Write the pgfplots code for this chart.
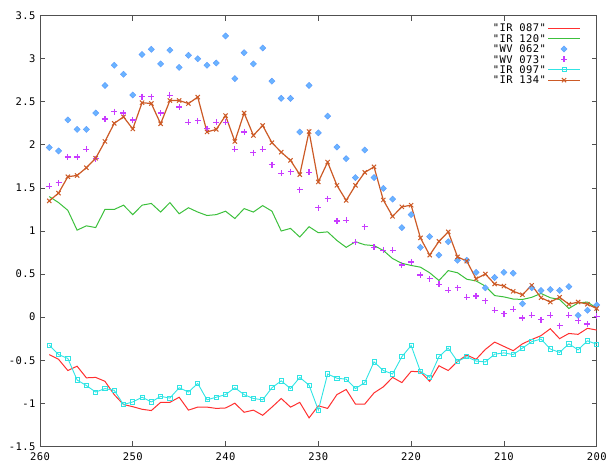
\documentclass[border=0pt]{standalone}
\usepackage{fontspec}
\setmonofont{DejaVu Sans Mono}[LetterSpace=4]
\usepackage{pgfplots}
\pgfplotsset{compat=1.18}
\definecolor{cred}{HTML}{FF3030}
\definecolor{cgreen}{HTML}{3CC03C}
\definecolor{cblue}{HTML}{6AB4FF}
\definecolor{cmag}{HTML}{C83CFF}
\definecolor{ccyan}{HTML}{30E4E4}
\definecolor{cbrown}{HTML}{CC5A26}
\definecolor{cframe}{HTML}{505050}
\begin{document}
\begin{tikzpicture}
\useasboundingbox (-40bp,-17.7bp) rectangle (568bp,446.3bp);
\begin{axis}[
  at={(0,0)}, anchor=south west,
  scale only axis, width=556.7bp, height=430.6bp,
  x dir=reverse, xmin=200, xmax=260, ymin=-1.5, ymax=3.5,
  xtick={200,210,220,230,240,250,260},
  xticklabels={200,210,220,230,240,250,260},
  ytick={-1.5,-1,-0.5,0,0.5,1,1.5,2,2.5,3,3.5},
  yticklabels={-1.5,-1,-0.5,0,0.5,1,1.5,2,2.5,3,3.5},
  tick align=inside, major tick length=5bp,
  axis line style={cframe, line width=0.9bp},
  every tick/.style={cframe, line width=0.8bp},
  ticklabel style={font=\ttfamily\fontsize{10.5bp}{12bp}\selectfont, black},
  xticklabel style={yshift=-3bp},
  yticklabel style={xshift=-1bp},
  legend plot pos=right,
  legend cell align=right,
  legend style={draw=none, fill=none, at={(rel axis cs:1,1)}, anchor=north east,
    xshift=-13bp, yshift=-5bp,
    font=\ttfamily\fontsize{10.5bp}{12bp}\selectfont,
    nodes={inner sep=1.6bp, text height=7.4bp, text depth=0bp},
    row sep=-0.2bp,
    /tikz/every even column/.append style={column sep=4.5bp}},
  legend image code/.code={\draw[mark repeat=2,mark phase=2,#1] plot coordinates {(0cm,0cm) (0.56cm,0cm) (1.12cm,0cm)};},
]
% IR 087
\addplot[cred, line width=1bp, no marks] coordinates {
(259,-0.435)(258,-0.49)(257,-0.62)(256,-0.57)(255,-0.705)(254,-0.70)(253,-0.745)(252,-0.90)(251,-1.015)(250,-1.04)
(249,-1.07)(248,-1.085)(247,-0.99)(246,-0.99)(245,-0.93)(244,-1.08)(243,-1.045)(242,-1.045)(241,-1.06)(240,-1.055)
(239,-1.00)(238,-1.105)(237,-1.08)(236,-1.14)(235,-1.045)(234,-0.945)(233,-1.045)(232,-0.99)(231,-1.17)(230,-1.03)
(229,-1.06)(228,-0.90)(227,-0.84)(226,-1.01)(225,-1.01)(224,-0.88)(223,-0.81)(222,-0.70)(221,-0.76)(220,-0.63)
(219,-0.635)(218,-0.745)(217,-0.565)(216,-0.62)(215,-0.515)(214,-0.44)(213,-0.49)(212,-0.375)(211,-0.29)(210,-0.34)
(209,-0.39)(208,-0.31)(207,-0.26)(206,-0.215)(205,-0.135)(204,-0.25)(203,-0.19)(202,-0.20)(201,-0.13)(200,-0.15)
};
\addlegendentry{"IR 087"}
% IR 120
\addplot[cgreen, line width=1bp, no marks] coordinates {
(259,1.40)(258,1.33)(257,1.24)(256,1.01)(255,1.06)(254,1.04)(253,1.25)(252,1.25)(251,1.30)(250,1.19)
(249,1.30)(248,1.32)(247,1.22)(246,1.33)(245,1.20)(244,1.27)(243,1.22)(242,1.18)(241,1.19)(240,1.23)
(239,1.145)(238,1.26)(237,1.22)(236,1.295)(235,1.23)(234,1.00)(233,1.03)(232,0.93)(231,1.05)(230,0.98)
(229,0.99)(228,0.89)(227,0.81)(226,0.875)(225,0.84)(224,0.83)(223,0.775)(222,0.68)(221,0.625)(220,0.60)
(219,0.58)(218,0.515)(217,0.425)(216,0.54)(215,0.515)(214,0.44)(213,0.42)(212,0.36)(211,0.25)(210,0.235)
(209,0.21)(208,0.205)(207,0.23)(206,0.275)(205,0.225)(204,0.205)(203,0.10)(202,0.165)(201,0.175)(200,0.105)
};
\addlegendentry{"IR 120"}
% WV 062
\addplot[only marks, mark=square*, mark size=2.2bp, mark options={rotate=45, fill=cblue, draw=cblue!85!blue, line width=0.4bp}] coordinates {
(259,1.97)(258,1.93)(257,2.29)(256,2.18)(255,2.18)(254,2.37)(253,2.69)(252,2.925)(251,2.82)(250,2.58)
(249,3.05)(248,3.11)(247,2.94)(246,3.10)(245,2.90)(244,3.04)(243,3.00)(242,2.925)(241,2.95)(240,3.265)
(239,2.77)(238,3.07)(237,2.94)(236,3.125)(235,2.74)(234,2.54)(233,2.54)(232,2.15)(231,2.69)(230,2.14)
(229,2.335)(228,1.975)(227,1.84)(226,1.62)(225,1.94)(224,1.62)(223,1.495)(222,1.37)(221,1.04)(220,1.19)
(219,0.81)(218,0.935)(217,0.72)(216,0.875)(215,0.66)(214,0.66)(213,0.52)(212,0.34)(211,0.46)(210,0.52)
(209,0.51)(208,0.155)(207,0.34)(206,0.31)(205,0.32)(204,0.31)(203,0.355)(202,0.02)(201,0.08)(200,0.14)
};
\addlegendentry{"WV 062"}
% WV 073
\addplot[only marks, mark=+, mark size=3bp, mark options={cmag, line width=1.2bp}] coordinates {
(259,1.52)(258,1.56)(257,1.86)(256,1.86)(255,1.95)(254,1.84)(253,2.30)(252,2.385)(251,2.37)(250,2.29)
(249,2.56)(248,2.56)(247,2.37)(246,2.575)(245,2.44)(244,2.26)(243,2.28)(242,2.19)(241,2.26)(240,2.26)
(239,1.95)(238,2.15)(237,1.91)(236,1.95)(235,1.77)(234,1.67)(233,1.69)(232,1.48)(231,1.68)(230,1.27)
(229,1.375)(228,1.115)(227,1.125)(226,0.87)(225,1.05)(224,0.81)(223,0.775)(222,0.775)(221,0.605)(220,0.64)
(219,0.49)(218,0.445)(217,0.38)(216,0.31)(215,0.34)(214,0.23)(213,0.245)(212,0.19)(211,0.08)(210,0.04)
(209,0.09)(208,-0.01)(207,0.02)(206,-0.03)(205,0.02)(204,-0.10)(203,0.02)(202,-0.04)(201,-0.08)(200,0.01)
};
\addlegendentry{"WV 073"}
% IR 097
\addplot[ccyan, line width=0.9bp, mark=square, mark size=2.1bp, mark options={line width=0.8bp}] coordinates {
(259,-0.325)(258,-0.435)(257,-0.48)(256,-0.73)(255,-0.795)(254,-0.87)(253,-0.83)(252,-0.85)(251,-1.015)(250,-0.985)
(249,-0.93)(248,-0.985)(247,-0.92)(246,-0.94)(245,-0.82)(244,-0.87)(243,-0.77)(242,-0.96)(241,-0.93)(240,-0.90)
(239,-0.82)(238,-0.90)(237,-0.945)(236,-0.96)(235,-0.82)(234,-0.74)(233,-0.83)(232,-0.70)(231,-0.79)(230,-1.08)
(229,-0.66)(228,-0.71)(227,-0.72)(226,-0.83)(225,-0.76)(224,-0.52)(223,-0.62)(222,-0.66)(221,-0.46)(220,-0.33)
(219,-0.63)(218,-0.70)(217,-0.46)(216,-0.36)(215,-0.515)(214,-0.46)(213,-0.51)(212,-0.52)(211,-0.43)(210,-0.415)
(209,-0.435)(208,-0.36)(207,-0.285)(206,-0.255)(205,-0.37)(204,-0.41)(203,-0.31)(202,-0.38)(201,-0.275)(200,-0.315)
};
\addlegendentry{"IR 097"}
% IR 134
\addplot[cbrown, line width=1.2bp, mark=x, mark size=3bp, mark options={line width=1bp}] coordinates {
(259,1.35)(258,1.44)(257,1.63)(256,1.645)(255,1.735)(254,1.845)(253,2.04)(252,2.25)(251,2.325)(250,2.185)
(249,2.49)(248,2.48)(247,2.245)(246,2.515)(245,2.515)(244,2.48)(243,2.555)(242,2.15)(241,2.18)(240,2.34)
(239,2.04)(238,2.37)(237,2.11)(236,2.225)(235,2.025)(234,1.915)(233,1.82)(232,1.655)(231,2.155)(230,1.57)
(229,1.80)(228,1.53)(227,1.355)(226,1.53)(225,1.68)(224,1.745)(223,1.36)(222,1.17)(221,1.28)(220,1.30)
(219,0.92)(218,0.72)(217,0.88)(216,0.99)(215,0.70)(214,0.65)(213,0.445)(212,0.50)(211,0.385)(210,0.36)
(209,0.30)(208,0.26)(207,0.37)(206,0.225)(205,0.175)(204,0.23)(203,0.15)(202,0.175)(201,0.15)(200,0.10)
};
\addlegendentry{"IR 134"}
\end{axis}
\end{tikzpicture}
\end{document}
